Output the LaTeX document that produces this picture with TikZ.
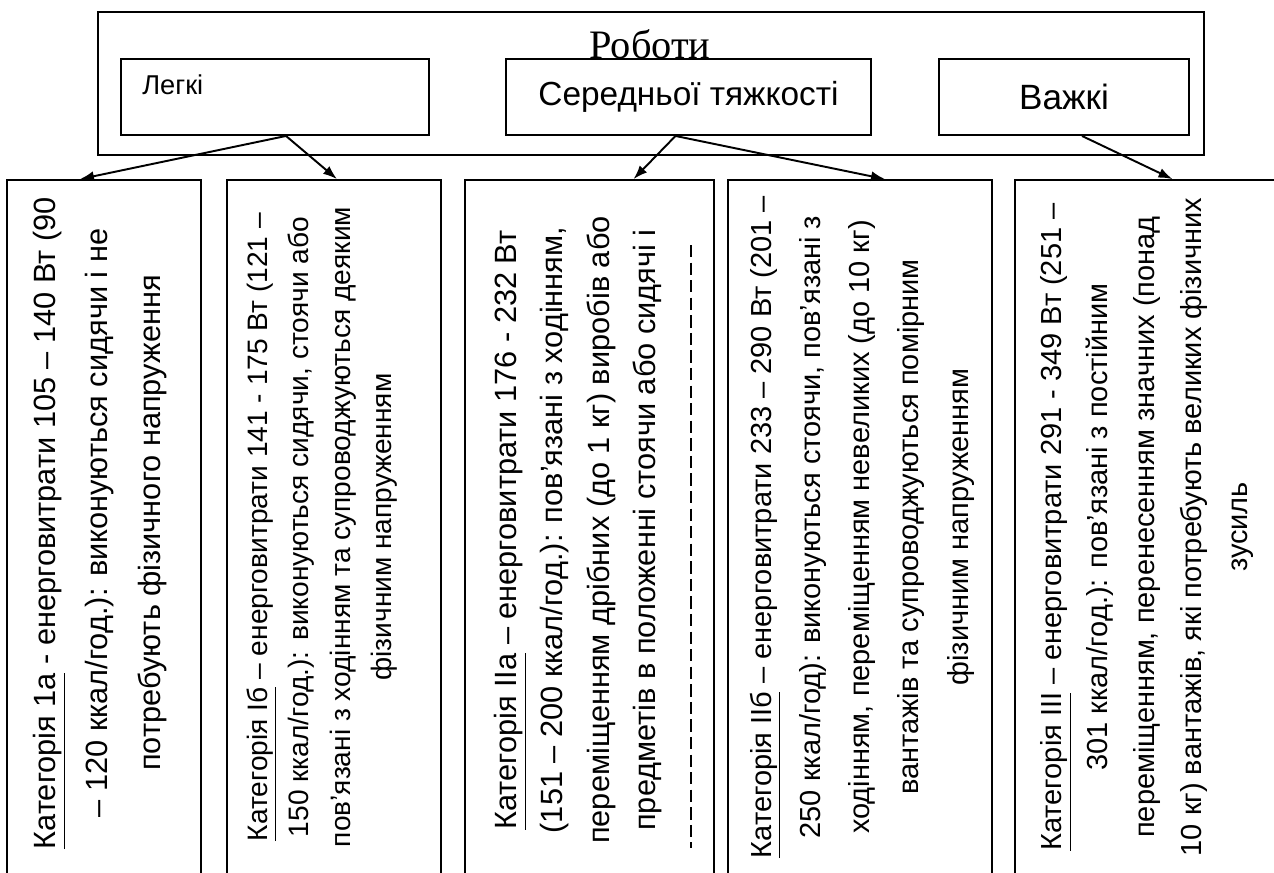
\documentclass[tikz,border=0pt]{standalone}
\usepackage{fontspec}
\setmainfont{Liberation Sans}
\newfontfamily\titlefont{Liberation Serif}
\usetikzlibrary{arrows.meta,calc}

\begin{document}
\begin{tikzpicture}[
    x=0.02cm, y=-0.02cm,
    frame/.style={draw, line width=1.1pt, inner sep=0pt},
    kindbox/.style={frame, minimum height=1.52cm},
    catbox/.style={frame, minimum height=14.4cm},
    cattext/.style={rotate=90, align=center, inner sep=0pt},
    link/.style={line width=1.1pt, -{Latex[length=0.28cm, width=0.2cm]}}
]
\useasboundingbox (0,0) rectangle (1274,872);
\clip (0,0) rectangle (1274,872);

% kinds of work
\node[frame, minimum width=22.12cm, minimum height=2.86cm] (works) at (651,83.5) {};
\node[font=\titlefont\fontsize{23}{26}\selectfont] (workstitle) at (650,44) {Роботи};

\node[kindbox, minimum width=6.16cm] (light) at (275,97) {};
\node[anchor=west, inner sep=0pt, font=\fontsize{15.5}{18}\selectfont] (lighttext) at (142,85) {Легкі};
\node[kindbox, minimum width=7.3cm] (medium) at (688.5,97) {};
\node[font=\fontsize{19}{22}\selectfont] (mediumtext) at (medium.center) {Середньої тяжкості};
\node[kindbox, minimum width=5cm] (heavy) at (1064,97) {};
\node[font=\fontsize{20}{22}\selectfont] (heavytext) at (heavy.center) {Важкі};

% categories
\node[catbox, minimum width=3.88cm] (cat1) at (104,540) {};
\node[catbox, minimum width=4.28cm] (cat2) at (334,540) {};
\node[catbox, minimum width=4.98cm] (cat3) at (589.5,540) {};
\node[catbox, minimum width=5.28cm] (cat4) at (860,540) {};
\node[catbox, minimum width=5.7cm] (cat5) at (1157.5,540) {};

\node[cattext, font=\fontsize{17.5}{30}\selectfont] (cat1text) at (100,523)
    {\underline{Категорія 1а} - енерговитрати 105 – 140 Вт (90\\
     – 120 ккал/год.): виконуються сидячи і не\\
     потребують фізичного напруження};
\node[cattext, font=\fontsize{16}{23.5}\selectfont] (cat2text) at (322,527)
    {\underline{Категорія Іб} – енерговитрати 141 - 175 Вт (121 –\\
     150 ккал/год.): виконуються сидячи, стоячи або\\
     пов'язані з ходінням та супроводжуються деяким\\
     фізичним напруженням};
\node[cattext, font=\fontsize{17.5}{26.5}\selectfont] (cat3text) at (578,530)
    {\underline{Категорія IIа} – енерговитрати 176 - 232 Вт\\
     (151 – 200 ккал/год.): пов'язані з ходінням,\\
     переміщенням дрібних (до 1 кг) виробів або\\
     предметів в положенні стоячи або сидячі і};
\draw[line width=1.1pt, dash pattern=on 7pt off 3pt] (691,245) -- (691,848);
\node[cattext, font=\fontsize{16.5}{28}\selectfont] (cat4text) at (862,527)
    {\underline{Категорія IIб} – енерговитрати 233 – 290 Вт (201 –\\
     250 ккал/год): виконуються стоячи, пов'язані з\\
     ходінням, переміщенням невеликих (до 10 кг)\\
     вантажів та супроводжуються помірним\\
     фізичним напруженням};
\node[cattext, font=\fontsize{16.5}{26.5}\selectfont] (cat5text) at (1147,527)
    {\underline{Категорія III} – енерговитрати 291 - 349 Вт (251 –\\
     301 ккал/год.):  пов'язані з постійним\\
     переміщенням, перенесенням значних (понад\\
     10 кг) вантажів, які потребують великих фізичних\\
     зусиль};

% links
\draw[link] ($(light.south)+(11,0)$) -- ($(cat1.north)+(-24,0)$);
\draw[link] ($(light.south)+(11,0)$) -- ($(cat2.north)+(3,0)$);
\draw[link] ($(medium.south)+(-13,0)$) -- ($(cat3.north)+(44,0)$);
\draw[link] ($(medium.south)+(-13,0)$) -- ($(cat4.north)+(25,0)$);
\draw[link] ($(heavy.south)+(18,0)$) -- ($(cat5.north)+(15,0)$);

\end{tikzpicture}
\end{document}
